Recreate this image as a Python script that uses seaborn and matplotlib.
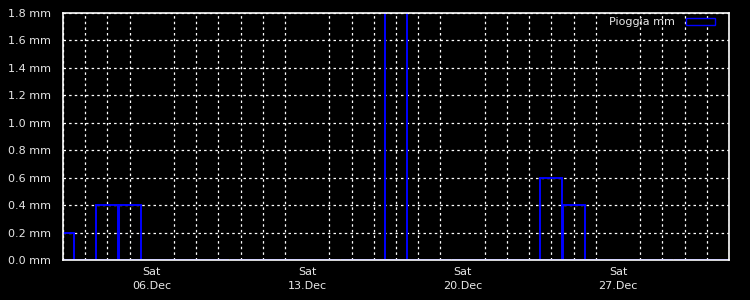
import matplotlib
matplotlib.use("Agg")
import matplotlib.pyplot as plt
import matplotlib.dates as mdates
import matplotlib.ticker as mticker
from matplotlib.patches import Patch
import numpy as np
import pandas as pd
import seaborn as sns

# ---- data ----
rain_dates = ["2025-12-02", "2025-12-04", "2025-12-05", "2025-12-17", "2025-12-24", "2025-12-25"]
rain_mm = [0.2, 0.4, 0.4, 2.2, 0.6, 0.4]
x_start = "2025-12-02"
x_end = "2026-01-01"
y_max = 1.8
series_label = "Pioggia mm"

sns.set_theme(style="dark")
plt.rcParams["font.family"] = ["DejaVu Sans"]

fig = plt.figure(figsize=(7.5, 3.0), dpi=100, facecolor="black")
ax = fig.add_axes([63/750, 40/300, (729-63)/750, (260-13)/300])
ax.set_facecolor("black")

xnum = mdates.date2num(pd.to_datetime(rain_dates))
t0 = mdates.date2num(pd.Timestamp(x_start))
t1 = mdates.date2num(pd.Timestamp(x_end))

df = pd.DataFrame({"day": xnum, "mm": rain_mm})
sns.histplot(data=df, x="day", weights="mm", binwidth=1.0,
             binrange=(t0 - 0.5, t1 + 0.5), element="bars",
             fill=False, color="#0000ff", linewidth=1.4, ax=ax, legend=False)

ax.set_xlim(t0, t1)
ax.set_ylim(0, y_max)
ax.set_xlabel("")
ax.set_ylabel("")

# x axis
ax.xaxis.set_major_locator(mdates.WeekdayLocator(byweekday=mdates.SA))
ax.xaxis.set_major_formatter(mdates.DateFormatter("%a\n%d.%b"))
ax.xaxis.set_minor_locator(mdates.DayLocator())
ax.tick_params(axis="x", which="major", direction="in", length=6, width=1,
               color="white", labelcolor="#e8e8e8", labelsize=8, pad=5)
ax.tick_params(axis="x", which="minor", length=0)

# y axis
ax.yaxis.set_major_locator(mticker.MultipleLocator(0.2))
ax.yaxis.set_minor_locator(mticker.MultipleLocator(0.1))
ax.yaxis.set_major_formatter(mticker.FuncFormatter(lambda v, p: f"{v:.1f} mm"))
ax.tick_params(axis="y", which="major", direction="in", length=4, width=1,
               color="white", labelcolor="#e8e8e8", labelsize=8, pad=9)
ax.tick_params(axis="y", which="minor", direction="in", length=4, width=1, color="white")

ax.grid(False)
ax.grid(True, axis="x", which="minor", color="white", linestyle=(0, (2, 2.5)), linewidth=0.9)
ax.grid(True, axis="y", which="major", color="white", linestyle=(0, (2, 2.5)), linewidth=0.9)
ax.set_axisbelow(True)

for s in ax.spines.values():
    s.set_visible(True)
    s.set_color("white")
    s.set_linewidth(1.2)

handle = Patch(facecolor="black", edgecolor="#0000ff", linewidth=1.0)
leg = ax.legend([handle], [series_label], loc="upper right", frameon=False,
                markerfirst=False, fontsize=8, handlelength=2.6, handleheight=0.5,
                handletextpad=1.0, borderaxespad=0.0, bbox_to_anchor=(0.985, 1.0))
for t in leg.get_texts():
    t.set_color("#e8e8e8")

fig.canvas.draw()
for lab in ax.get_xticklabels():
    lab.set_horizontalalignment("center")
    lab.set_linespacing(1.5)

fig.savefig("out.png", dpi=100, facecolor="black")
